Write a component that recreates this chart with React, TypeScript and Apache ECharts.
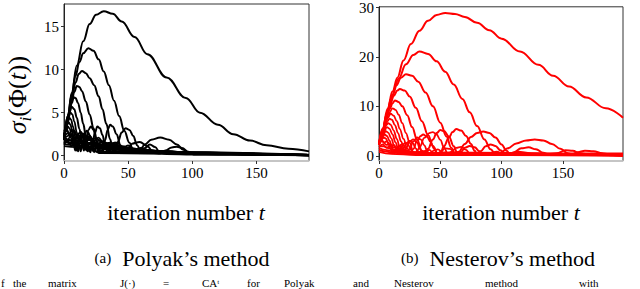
import React, { useEffect, useRef } from "react";
import * as echarts from "echarts";

const FONT = "Liberation Serif";

// ---------- Polyak's method (black) ----------
const polyakXTicks = [0, 50, 100, 150];
const polyakYTicks = [0, 5, 10, 15];

const polyakMajor: number[][][] = [
  [[0,1.8],[3,4.6],[6,7.3],[10,10.5],[15,13.3],[20,15.3],[25,16.4],[31,16.8],[38,16.5],[45,15.6],[55,13.8],[65,11.8],[80,9.1],[95,6.7],[106,5.0],[120,3.6],[132,2.5],[145,1.75],[158,1.2],[175,0.8],[191,0.5]],
  [[0,1.9],[3,4.6],[6,7.1],[9,9.3],[12,10.9],[15,11.9],[19,12.5],[23,12.2],[27,11.2],[31,9.8],[35,8.2],[39,6.4],[43,4.6],[47,2.9],[51,1.5],[54,0.6],[56,0.3],[59,0.6],[63,1.3],[68,1.85],[75,2.1],[82,1.85],[88,1.3],[93,0.7],[97,0.3],[100,0.2],[110,0.25],[130,0.2],[150,0.15],[191,0.1]],
  [[0,1.9],[3,4.4],[6,6.7],[9,8.5],[11.5,9.5],[14,9.85],[17,9.6],[20,9.0],[23.5,8.2],[27,6.9],[30,5.4],[33,3.7],[36,1.9],[38,0.6],[40,0.5],[42,1.6],[45,2.7],[48,3.2],[51,3.0],[54,2.3],[57,1.2],[60,0.3],[63,0.9],[67,1.3],[71,1.0],[75,0.3],[80,0.2],[100,0.15],[191,0.08]],
  [[0,1.9],[2,3.5],[4,5.0],[6,6.3],[8,7.4],[10,8.1],[12,8.0],[14,7.5],[17,6.3],[20,4.8],[23,3.2],[26,1.6],[28.5,0.5],[30.5,0.6],[32,1.8],[34,3.0],[36,3.6],[38,3.4],[41,2.5],[44,1.2],[46.5,0.3],[49,0.7],[53,1.4],[59,1.6],[65,1.1],[70,0.3],[75,0.25],[79,0.6],[84,0.95],[88,1.05],[92,0.9],[97,0.45],[101,0.15],[120,0.12],[191,0.06]],
  [[0,1.9],[2,3.4],[4,4.9],[6,6.1],[7.6,6.8],[9,6.7],[11,6.1],[13,5.0],[15,3.7],[17,2.3],[19,1.0],[20.5,0.4],[22,1.2],[24,2.6],[26,3.4],[28,3.2],[30,2.4],[32,1.3],[34,0.4],[36,0.8],[39,1.5],[42,1.5],[45,0.9],[48,0.3],[55,0.3],[191,0.05]],
  [[0,1.9],[2,3.5],[4,4.9],[6,5.7],[8,5.4],[10,4.4],[12,3.1],[14,1.7],[15.5,0.6],[17,1.5],[19,3.0],[21,3.4],[23,3.0],[25,1.9],[27,0.6],[29,1.0],[31,1.5],[33,1.3],[35,0.6],[40,0.3],[191,0.05]],
];

const polyakMinor: number[][][] = [
  [[0,1.9],[2,3.4],[3.5,4.4],[5,5.0],[6.5,4.8],[8,4.0],[10,2.7],[11.5,1.5],[13,0.5],[14.5,1.3],[16,2.3],[17.5,2.9],[19,2.7],[20.5,2.0],[22,1.0],[23.5,0.4],[25,0.9],[27,1.3],[29,0.9],[31,0.3],[40,0.3],[191,0.05]],
  [[0,1.9],[1.5,3.0],[3,3.9],[4.2,4.4],[5.5,4.2],[7,3.4],[8.5,2.3],[10,1.1],[11,0.5],[12.5,1.4],[14,2.3],[15.5,2.6],[17,2.3],[18.5,1.4],[20,0.5],[21.5,0.9],[23.5,1.3],[25.5,0.9],[27,0.3],[191,0.05]],
  [[0,1.9],[1.5,2.9],[2.5,3.6],[3.6,3.9],[5,3.6],[6.5,2.8],[8,1.7],[9.5,0.6],[11,1.2],[12.5,2.1],[14,2.4],[15.5,2.0],[17,1.2],[18.5,0.5],[20,1.0],[22,1.2],[24,0.6],[26,0.4],[191,0.05]],
  [[0,1.9],[1.5,2.8],[3,3.4],[4.5,3.1],[6,2.3],[7.5,1.3],[8.8,0.6],[10,1.2],[11.5,1.9],[13,2.1],[14.5,1.7],[16,1.0],[17.5,0.6],[19,1.0],[21,1.0],[23,0.5],[191,0.05]],
];

const polyakBand: number[][][] = [
  [[0,1.1],[10,1.0],[20,0.88],[40,0.68],[60,0.52],[80,0.39],[100,0.28],[120,0.2],[150,0.13],[191,0.08]],
  [[0,1.35],[10,1.2],[20,1.05],[40,0.8],[60,0.6],[80,0.44],[100,0.3],[130,0.2],[191,0.1]],
  [[0,1.6],[10,1.45],[20,1.25],[35,1.0],[50,0.8],[70,0.58],[90,0.4],[110,0.28],[150,0.17],[191,0.1]],
  [[0,1.8],[8,1.75],[16,1.55],[25,1.3],[40,1.0],[55,0.75],[75,0.52],[100,0.33],[140,0.18],[191,0.1]],
  [[0,2.0],[5,2.4],[10,2.0],[15,2.3],[20,1.8],[25,2.0],[30,1.5],[38,1.3],[50,0.9],[65,0.6],[90,0.35],[130,0.18],[191,0.1]],
  [[0,1.5],[4,1.9],[8,1.3],[12,1.8],[16,1.2],[20,1.5],[25,1.0],[32,1.1],[45,0.7],[70,0.45],[100,0.25],[191,0.08]],
  [[0,2.2],[3,2.6],[7,1.8],[11,2.4],[15,1.6],[19,2.0],[24,1.4],[30,1.3],[40,1.0],[60,0.6],[100,0.28],[191,0.08]],
  [[0,2.5],[2,3.0],[5,2.2],[8,2.9],[11,2.0],[14,2.6],[17,1.8],[20,2.3],[24,1.5],[28,1.8],[33,1.2],[40,1.2],[50,0.8],[70,0.5],[100,0.28],[191,0.08]],
  [[0,2.8],[1.5,3.2],[4,2.6],[7,3.0],[10,2.3],[13,2.8],[16,2.0],[19,2.5],[23,1.7],[27,2.1],[31,1.4],[36,1.5],[44,1.0],[60,0.65],[90,0.35],[191,0.08]],
  [[0,1.3],[3,1.7],[6,1.2],[9,1.6],[12,1.1],[16,1.4],[20,1.0],[26,1.1],[34,0.8],[50,0.6],[80,0.38],[191,0.07]],
  [[0,2.3],[3,1.9],[6,2.5],[9,1.9],[13,2.3],[17,1.7],[21,2.0],[26,1.4],[31,1.6],[37,1.1],[45,1.1],[55,0.8],[80,0.45],[191,0.08]],
  [[0,2.0],[5,1.4],[10,2.1],[15,1.3],[20,1.9],[25,1.1],[30,1.7],[35,1.0],[40,1.5],[45,0.8],[50,1.2],[55,0.6],[60,0.9],[68,0.5],[80,0.55],[100,0.25],[191,0.07]],
];

// ---------- Nesterov's method (red) ----------
const nesterovXTicks = [0, 50, 100, 150];
const nesterovYTicks = [0, 10, 20, 30];

const nesterovMajor: number[][][] = [
  [[0,2.4],[3,5.5],[7,9.5],[11,13],[15,15.8],[20,19.3],[26,22.6],[33,25.3],[40,27.3],[47,28.5],[54,28.9],[62,28.7],[70,28.1],[80,26.9],[90,25.4],[100,23.7],[115,21.1],[130,18.4],[142,16.2],[155,14.0],[169,11.8],[185,9.6],[199,7.7]],
  [[0,2.2],[3,5.3],[7,9.0],[11,12.3],[16,15.6],[22,18.5],[28,20.4],[33,21.1],[40,20.6],[47,19.1],[54,17.0],[61,14.4],[68,11.5],[74,8.8],[80,6.0],[86,3.3],[91,1.3],[95,0.3],[99,0.6],[105,1.5],[112,2.5],[120,3.1],[127,3.3],[134,3.1],[141,2.4],[148,1.4],[154,0.5],[157,0.3],[162,0.7],[168,1.0],[175,0.9],[182,0.5],[187,0.3],[199,0.25]],
  [[0,2.2],[3,5.2],[6,8.2],[10,11.6],[14,14.2],[18,15.8],[22,16.5],[27,16.2],[32,15.0],[38,12.8],[44,10.0],[50,6.7],[55,3.9],[59,1.6],[62,0.4],[65,0.8],[70,2.4],[75,3.8],[80,4.6],[85,4.9],[90,4.6],[95,3.7],[100,2.3],[104,1.0],[107,0.3],[110,0.7],[116,1.5],[122,1.7],[128,1.3],[134,0.6],[138,0.3],[145,0.5],[152,1.1],[158,1.0],[164,0.5],[170,0.3],[199,0.2]],
  [[0,2.2],[3,5.0],[6,7.9],[9,10.3],[12,12.1],[15,13.2],[17,13.5],[21,13.2],[25,12.0],[30,9.7],[35,7.0],[40,4.2],[44,2.0],[48,0.4],[50,0.5],[53,1.9],[57,3.7],[60,4.8],[63,5.4],[67,5.1],[71,4.0],[75,2.4],[78,1.0],[80,0.3],[83,0.9],[87,1.9],[91,2.3],[95,2.0],[99,1.1],[103,0.3],[108,0.4],[114,0.8],[120,0.6],[126,0.25],[199,0.15]],
  [[0,2.2],[3,4.9],[6,7.6],[9,9.6],[11,10.6],[13,11.2],[16,10.9],[19,10.0],[23,8.2],[27,5.8],[31,3.3],[35,1.0],[37,0.4],[40,1.4],[44,3.3],[47,4.6],[50,5.2],[53,5.0],[57,3.9],[61,1.9],[64,0.4],[67,0.8],[70,1.6],[74,2.0],[78,1.7],[82,0.9],[85,0.3],[90,0.5],[96,0.8],[101,0.4],[199,0.12]],
];

const nesterovMinor: number[][][] = [
  [[0,2.2],[3,4.8],[5.5,7.0],[8,8.6],[11,9.6],[13.5,9.3],[16,8.3],[19,6.6],[22,4.6],[25,2.6],[28,0.8],[30,0.4],[33,1.7],[37,3.6],[41,4.6],[44,4.8],[47,4.3],[50,3.2],[53,1.7],[56,0.4],[59,0.8],[63,1.6],[67,1.8],[71,1.2],[74,0.4],[199,0.1]],
  [[0,2.2],[2.5,4.4],[5,6.3],[7,7.6],[9.5,8.5],[12,8.1],[14.5,7.0],[17,5.4],[20,3.4],[23,1.5],[25.5,0.4],[28,1.4],[31,3.0],[34,4.0],[36,4.3],[39,3.9],[42,2.8],[45,1.4],[47.5,0.4],[50,0.8],[54,1.5],[58,1.4],[62,0.5],[199,0.1]],
  [[0,2.2],[2.5,4.2],[5,5.9],[7,7.0],[8.5,7.5],[10.5,7.3],[13,6.2],[15.5,4.6],[18,2.9],[20.5,1.3],[22.5,0.4],[25,1.4],[28,2.9],[31,3.7],[34,3.3],[37,2.1],[39.5,0.8],[41.5,0.4],[45,1.1],[48,1.3],[52,0.7],[199,0.1]],
  [[0,2.2],[2,3.8],[4,5.2],[6,6.2],[7.5,6.6],[9.5,6.3],[12,5.1],[14.5,3.4],[17,1.7],[19.5,0.4],[22,1.5],[25,2.9],[28,3.3],[31,2.7],[33.5,1.4],[35.5,0.4],[38,0.9],[41,1.2],[44,0.6],[199,0.1]],
  [[0,2.2],[2,3.6],[4,4.9],[6.5,5.8],[8.5,5.5],[11,4.3],[13.5,2.7],[16,1.1],[17.5,0.4],[20,1.5],[22.5,2.6],[25,3.0],[27.5,2.6],[30,1.5],[32,0.4],[35,0.9],[38,1.0],[41,0.4],[199,0.1]],
  [[0,2.2],[2,3.4],[4,4.5],[5.5,5.0],[7.5,4.7],[10,3.5],[12.5,1.9],[15,0.5],[17.5,1.4],[19.5,2.3],[21.5,2.6],[23.5,2.3],[26,1.3],[28,0.4],[31,0.9],[34,0.8],[37,0.3],[199,0.08]],
  [[0,2.2],[1.5,3.2],[3,3.9],[4.5,4.3],[6.5,4.0],[8.5,3.1],[10.5,1.8],[12.5,0.5],[14.5,1.2],[16.5,2.0],[18.5,2.3],[20.5,2.0],[22.5,1.1],[24.5,0.4],[27,0.8],[30,0.6],[199,0.08]],
  [[0,2.2],[1.5,3.0],[3,3.5],[4,3.7],[5.5,3.5],[7.5,2.7],[9.5,1.4],[11,0.5],[13,1.1],[15,1.8],[17,2.0],[19,1.6],[21,0.8],[23,0.4],[199,0.06]],
];

const nesterovBand: number[][][] = [
  [[0,1.2],[5,0.9],[10,0.7],[20,0.45],[30,0.3],[50,0.2],[100,0.15],[199,0.1]],
  [[0,1.6],[5,1.2],[10,0.95],[20,0.6],[30,0.4],[50,0.3],[100,0.22],[150,0.2],[199,0.15]],
  [[0,2.0],[4,1.9],[8,1.5],[12,1.2],[18,0.8],[26,0.55],[40,0.4],[70,0.35],[120,0.3],[199,0.3]],
  [[0,2.6],[3,2.9],[6,2.2],[9,2.4],[12,1.7],[16,1.5],[22,1.0],[30,0.7],[50,0.5],[100,0.45],[150,0.5],[199,0.5]],
  [[0,0.8],[10,0.4],[30,0.15],[199,0.05]],
  [[0,3.0],[2,3.3],[4,2.6],[6,2.9],[9,2.0],[12,2.2],[15,1.4],[20,1.2],[28,0.7],[40,0.5],[80,0.4],[199,0.35]],
  [[0,1.8],[3,2.3],[6,1.6],[9,1.9],[12,1.2],[16,1.2],[22,0.7],[30,0.5],[60,0.3],[199,0.25]],
];

// ---------- texts ----------
const xAxisTitle = "iteration number ";
const xAxisTitleVar = "t";
const captionA = ["(a)", "Polyak’s method"];
const captionB = ["(b)", "Nesterov’s method"];
const footerWords = ["f", "the", "matrix", "J(·)", "=", "CAᵗ", "for", "Polyak", "and", "Nesterov", "method", "with"];
const footerX = [0, 12, 47, 119, 162, 201, 246, 283, 352, 393, 484, 578];

function buildSeries(curves: number[][][], color: string, idx: number, width: number) {
  return curves.map((c) => ({
    type: "line",
    xAxisIndex: idx,
    yAxisIndex: idx,
    data: c,
    showSymbol: false,
    symbol: "none",
    smooth: 0.4,
    smoothMonotone: "x",
    silent: true,
    clip: true,
    lineStyle: { color, width },
  }));
}

export default function App() {
  const ref = useRef<HTMLDivElement>(null);
  useEffect(() => {
    if (!ref.current) return;
    const chart = echarts.init(ref.current, undefined, { renderer: "svg" });
    const tickLabel = { fontFamily: FONT, fontSize: 15, color: "#000" };
    const richTitle = {
      n: { fontFamily: FONT, fontSize: 22, color: "#000" },
      i: { fontFamily: FONT, fontSize: 22, fontStyle: "italic", color: "#000" },
    };
    const xAxisCommon = (max: number, ticks: number[], idx: number) => ({
      type: "value",
      gridIndex: idx,
      min: 0,
      max,
      axisLine: { show: true, onZero: false, lineStyle: { color: "#d4d4d4", width: 1.5 } },
      axisTick: { show: true, length: 3, customValues: ticks, lineStyle: { color: "#333" } },
      axisLabel: { ...tickLabel, margin: 4, customValues: ticks },
      splitLine: { show: false },
    });
    const yAxisCommon = (min: number, max: number, ticks: number[], idx: number) => ({
      type: "value",
      gridIndex: idx,
      min,
      max,
      axisLine: { show: true, onZero: false, lineStyle: { color: "#222", width: 1 } },
      axisTick: { show: true, length: 3, customValues: ticks, lineStyle: { color: "#333" } },
      axisLabel: { ...tickLabel, margin: 5, customValues: ticks },
      splitLine: { show: false },
    });
    const option: any = {
      animation: false,
      backgroundColor: "#fff",
      grid: [
        { left: 64, top: 4, width: 245, height: 157, show: true, borderColor: "#333", borderWidth: 1, containLabel: false },
        { left: 379, top: 5, width: 244, height: 156, show: true, borderColor: "#333", borderWidth: 1, containLabel: false },
      ],
      xAxis: [xAxisCommon(191, polyakXTicks, 0), xAxisCommon(199, nesterovXTicks, 1)],
      yAxis: [yAxisCommon(-0.62, 17.64, polyakYTicks, 0), yAxisCommon(-1.06, 30.14, nesterovYTicks, 1)],
      series: [
        ...buildSeries(polyakBand, "#000", 0, 1.8),
        ...buildSeries(polyakMinor, "#000", 0, 1.8),
        ...buildSeries(polyakMajor, "#000", 0, 2),
        ...buildSeries(nesterovBand, "#ff0000", 1, 1.8),
        ...buildSeries(nesterovMinor, "#ff0000", 1, 1.8),
        ...buildSeries(nesterovMajor, "#ff0000", 1, 2),
      ],
      graphic: [
        {
          type: "text",
          x: 17,
          y: 95,
          rotation: Math.PI / 2,
          style: {
            text: "{s|σ}{sub|i}{n|(Φ(}{s|t}{n|))}",
            align: "center",
            verticalAlign: "middle",
            rich: {
              s: { fontFamily: FONT, fontSize: 26, fontStyle: "italic", lineHeight: 34, color: "#000" },
              n: { fontFamily: FONT, fontSize: 26, lineHeight: 34, color: "#000" },
              sub: { fontFamily: FONT, fontSize: 17, fontStyle: "italic", verticalAlign: "bottom", color: "#000" },
            },
          },
        },
        {
          type: "text",
          x: 186,
          y: 212,
          style: { text: `{n|${xAxisTitle}}{i|${xAxisTitleVar}}`, align: "center", verticalAlign: "middle", rich: richTitle },
        },
        {
          type: "text",
          x: 501,
          y: 212,
          style: { text: `{n|${xAxisTitle}}{i|${xAxisTitleVar}}`, align: "center", verticalAlign: "middle", rich: richTitle },
        },
        {
          type: "text",
          x: 182,
          y: 258,
          style: {
            text: `{a|${captionA[0]}}{n|  ${captionA[1]}}`,
            align: "center",
            verticalAlign: "middle",
            rich: { a: { fontFamily: FONT, fontSize: 15, color: "#000" }, n: { fontFamily: FONT, fontSize: 22, color: "#000" } },
          },
        },
        {
          type: "text",
          x: 498,
          y: 258,
          style: {
            text: `{a|${captionB[0]}}{n|  ${captionB[1]}}`,
            align: "center",
            verticalAlign: "middle",
            rich: { a: { fontFamily: FONT, fontSize: 15, color: "#000" }, n: { fontFamily: FONT, fontSize: 22, color: "#000" } },
          },
        },
        ...footerWords.map((w, k) => ({
          type: "text",
          x: footerX[k] + 1,
          y: 288,
          style: { text: w, font: `11px ${FONT}`, fill: "#000", align: "left", verticalAlign: "bottom" },
        })),
      ],
    };
    chart.setOption(option);
    return () => chart.dispose();
  }, []);
  return (
    <div
      ref={ref}
      style={{ position: "fixed", left: 0, top: 0, width: 640, height: 289, background: "#fff" }}
    />
  );
}
